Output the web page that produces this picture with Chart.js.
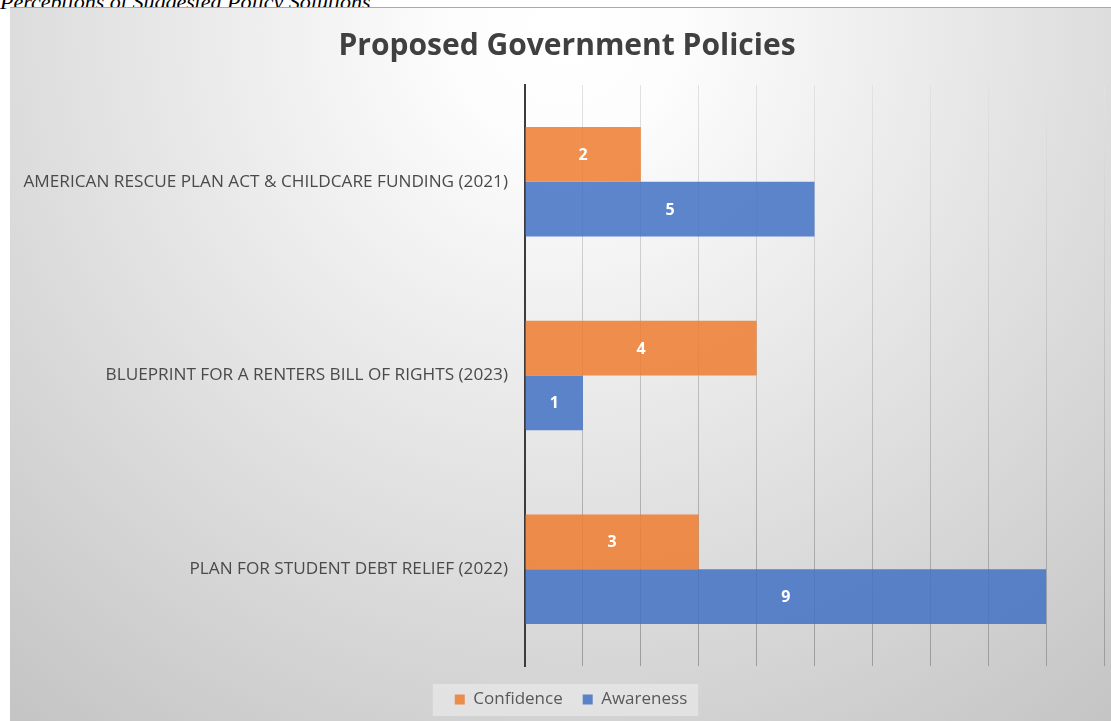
<!DOCTYPE html>
<html>
<head>
<meta charset="utf-8">
<script src="https://cdn.jsdelivr.net/npm/chart.js@4/dist/chart.umd.min.js"></script>
<style>
  html, body { margin: 0; padding: 0; background: #ffffff; width: 1111px; height: 721px; overflow: hidden; position: relative; }
  #caption { position: absolute; left: 0px; top: -9px; font-family: "Liberation Serif", serif; font-style: italic; font-size: 22px; line-height: 22px; color: #000; white-space: nowrap; }
  #wrap { position: absolute; left: 10px; top: 7px; width: 1101px; height: 714px; border-top: 1px solid #a9a9a9; box-sizing: border-box; }
  canvas { display: block; }
</style>
</head>
<body>
<div id="caption">Perceptions of Suggested Policy Solutions</div>
<div id="wrap"><canvas id="c" width="1101" height="713"></canvas></div>
<script>
const chartTitle = "Proposed Government Policies";
const categories = [
  "AMERICAN RESCUE PLAN ACT & CHILDCARE FUNDING (2021)",
  "BLUEPRINT FOR A RENTERS BILL OF RIGHTS (2023)",
  "PLAN FOR STUDENT DEBT RELIEF (2022)"
];
const seriesNames = ["Confidence", "Awareness"];
const confidence = [2, 4, 3];
const awareness = [5, 1, 9];
const axisMin = 0;
const axisMax = 10;
const axisStep = 1;

const shiftPlugin = {
  id: 'shiftBlocks',
  afterLayout(chart) {
    if (chart.titleBlock) chart.titleBlock.left += 20;
    if (chart.legend) chart.legend.left += 28;
  }
};

const bgPlugin = {
  id: 'bg',
  beforeDraw(chart) {
    const ctx = chart.ctx;
    const w = chart.width, h = chart.height;
    ctx.save();
    const g = ctx.createRadialGradient(555, 20, 0, 555, 20, 900);
    g.addColorStop(0, '#ffffff');
    g.addColorStop(0.12, '#fdfdfd');
    g.addColorStop(1, '#c3c3c3');
    ctx.fillStyle = g;
    ctx.fillRect(0, 0, w, h);
    const lg = chart.legend;
    if (lg && lg.legendHitBoxes && lg.legendHitBoxes.length) {
      let l = Infinity, r = -Infinity, t = Infinity, b = -Infinity;
      lg.legendHitBoxes.forEach(hb => {
        l = Math.min(l, hb.left); r = Math.max(r, hb.left + hb.width);
        t = Math.min(t, hb.top); b = Math.max(b, hb.top + hb.height);
      });
      ctx.fillStyle = 'rgba(238,238,238,0.55)';
      ctx.fillRect(l - 22, t - 7, (r - l) + 33, (b - t) + 15);
    }
    ctx.restore();
  }
};

const labelPlugin = {
  id: 'barLabels',
  afterDatasetsDraw(chart) {
    const ctx = chart.ctx;
    ctx.save();
    ctx.font = 'bold 16px "Open Sans"';
    ctx.fillStyle = '#ffffff';
    ctx.textAlign = 'center';
    ctx.textBaseline = 'middle';
    chart.data.datasets.forEach((ds, di) => {
      const meta = chart.getDatasetMeta(di);
      meta.data.forEach((el, i) => {
        const p = el.getProps(['x', 'y', 'base'], true);
        ctx.fillText(String(ds.data[i]), (p.x + p.base) / 2, p.y + 1);
      });
    });
    ctx.restore();
  }
};

function gridColor(c) {
  const chart = c.chart;
  const a = chart.chartArea;
  if (!a) return '#b5b5b5';
  const g = chart.ctx.createLinearGradient(0, a.top, 0, a.bottom);
  g.addColorStop(0, '#e2e2e2');
  g.addColorStop(1, '#9c9c9c');
  return g;
}

new Chart(document.getElementById('c'), {
  type: 'bar',
  data: {
    labels: categories,
    datasets: [
      { label: seriesNames[0], data: confidence, backgroundColor: 'rgba(237,125,49,0.86)', borderWidth: 0 },
      { label: seriesNames[1], data: awareness, backgroundColor: 'rgba(68,114,196,0.86)', borderWidth: 0 }
    ]
  },
  options: {
    indexAxis: 'y',
    responsive: false,
    animation: false,
    devicePixelRatio: 1,
    categoryPercentage: 0.565,
    barPercentage: 1.0,
    layout: { padding: { left: 0, right: 7, top: 0, bottom: 3 } },
    scales: {
      x: {
        min: axisMin, max: axisMax,
        ticks: { display: false, stepSize: axisStep },
        border: { display: false },
        grid: { color: gridColor, lineWidth: 1, drawTicks: false },
        afterFit(s) { s.height = 5; }
      },
      y: {
        ticks: { color: '#4a4a4a', font: { family: '"Open Sans"', size: 17.2 }, padding: 9 },
        grid: { display: false },
        border: { display: true, color: '#3c3c3c', width: 2 },
        afterFit(s) { s.width = 515; }
      }
    },
    plugins: {
      title: {
        display: true,
        text: chartTitle,
        color: '#404040',
        font: { family: '"Open Sans"', size: 30, weight: 'bold' },
        padding: { top: 20, bottom: 21 }
      },
      legend: {
        position: 'bottom',
        labels: {
          color: '#595959',
          font: { family: '"Open Sans"', size: 17 },
          boxWidth: 10, boxHeight: 10,
          padding: 20
        }
      },
      tooltip: { enabled: false }
    }
  },
  plugins: [shiftPlugin, bgPlugin, labelPlugin]
});
</script>
</body>
</html>
